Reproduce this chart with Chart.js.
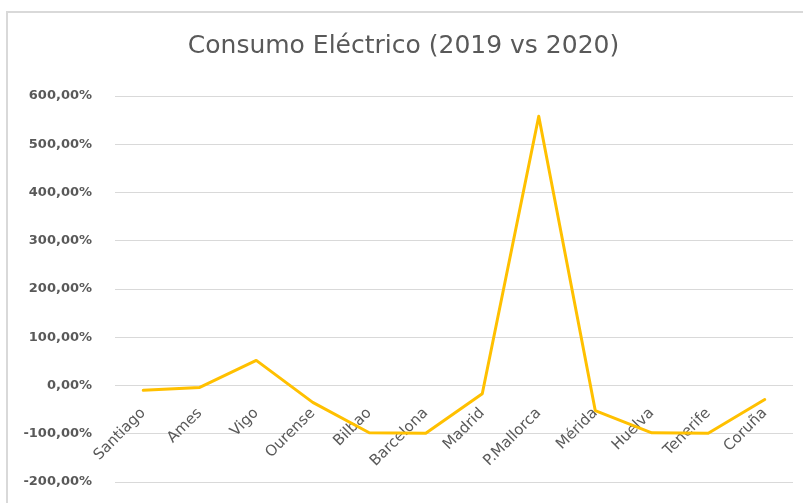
<!DOCTYPE html>
<html>
<head>
<meta charset="utf-8">
<script src="https://cdn.jsdelivr.net/npm/chart.js@4/dist/chart.umd.min.js"></script>
<style>
  html, body { margin: 0; padding: 0; background: #ffffff; }
  #wrap { width: 803px; height: 503px; }
</style>
</head>
<body>
<div id="wrap"><canvas id="myChart" width="803" height="503"></canvas></div>
<script>
const ciudades = [
    'Santiago', 'Ames', 'Vigo', 'Ourense', 'Bilbao', 'Barcelona',
    'Madrid', 'P.Mallorca', 'Mérida', 'Huelva', 'Tenerife', 'Coruña'
];

// variación del consumo en %
const variacion = [-10, -4, 52, -35, -98, -99, -17, 558, -52, -98, -99, -29];

const ejeMin = -200;
const ejeMax = 600;
const paso = 100;

const gris = '#595959';

// marco gris alrededor del gráfico
const marco = {
    id: 'marco',
    beforeDraw(chart) {
        const ctx = chart.ctx;
        ctx.save();
        ctx.fillStyle = '#ffffff';
        ctx.fillRect(0, 0, chart.width, chart.height);
        ctx.strokeStyle = '#d9d9d9';
        ctx.lineWidth = 2;
        ctx.strokeRect(7, 12, chart.width + 20, chart.height + 20);
        ctx.restore();
    }
};

const config = {
    type: 'line',
    data: {
        labels: ciudades,
        datasets: [{
            label: 'Consumo',
            data: variacion,
            borderColor: '#FFC000',
            backgroundColor: '#FFC000',
            borderWidth: 3,
            pointRadius: 0,
            tension: 0,
            borderJoinStyle: 'round',
            borderCapStyle: 'round'
        }]
    },
    options: {
        responsive: false,
        animation: false,
        layout: {
            padding: { top: 0, left: 14, right: 10, bottom: 21 }
        },
        scales: {
            x: {
                position: { y: 0 },
                offset: true,
                grid: { display: false, drawTicks: true, tickLength: 17, offset: true },
                border: { display: false },
                ticks: {
                    minRotation: 45,
                    maxRotation: 45,
                    autoSkip: false,
                    padding: 2,
                    color: gris,
                    font: { family: 'DejaVu Sans', size: 15 }
                }
            },
            y: {
                min: ejeMin,
                max: ejeMax,
                afterFit(s) { s.width = 101; },
                grid: {
                    color: '#d9d9d9',
                    lineWidth: 1,
                    drawTicks: true,
                    tickLength: 19,
                    tickColor: 'rgba(0,0,0,0)'
                },
                border: { display: false },
                ticks: {
                    stepSize: paso,
                    padding: 4,
                    color: gris,
                    font: { family: 'DejaVu Sans', size: 13, weight: 'bold' },
                    callback: v => v.toFixed(2).replace('.', ',') + '%'
                }
            }
        },
        plugins: {
            legend: { display: false },
            tooltip: { enabled: false },
            title: {
                display: true,
                text: 'Consumo Eléctrico (2019 vs 2020)',
                color: gris,
                font: { family: 'DejaVu Sans', size: 25, weight: 'normal' },
                padding: { top: 31, bottom: 35 }
            }
        }
    },
    plugins: [marco]
};

const myChart = new Chart(document.getElementById('myChart'), config);
</script>
</body>
</html>
